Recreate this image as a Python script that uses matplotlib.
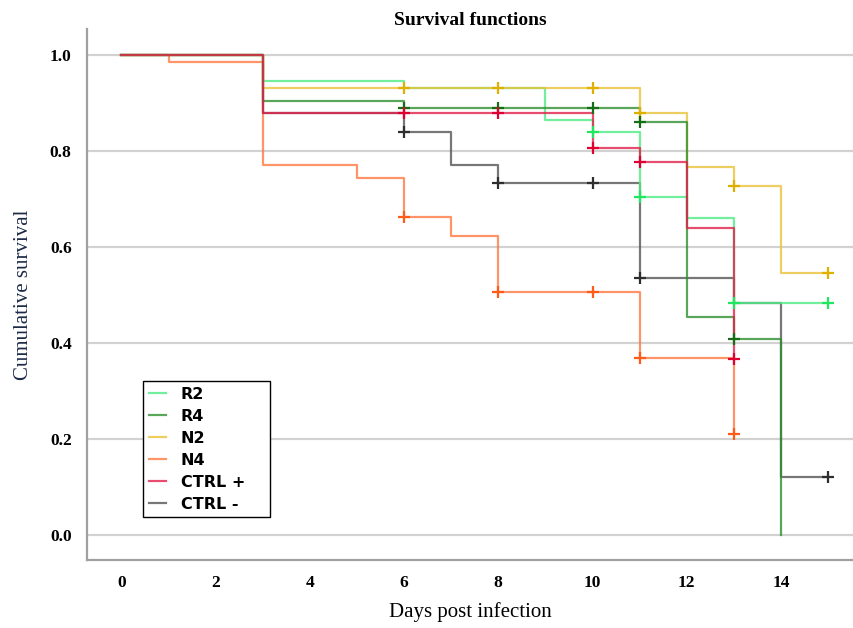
import numpy as np
import matplotlib
matplotlib.use("Agg")
import matplotlib.pyplot as plt
from matplotlib.lines import Line2D
from matplotlib.patches import Rectangle

# ---- data ----
groups = ["R2", "R4", "N2", "N4", "CTRL +", "CTRL -"]

times_R2 = [0, 3, 6, 9, 10, 11, 12, 13, 15]
surv_R2 = [1.0, 0.946, 0.932, 0.864, 0.840, 0.705, 0.660, 0.483, 0.483]
cens_R2 = [10, 11, 13, 15]

times_R4 = [0, 3, 6, 11, 12, 13, 14]
surv_R4 = [1.0, 0.904, 0.889, 0.861, 0.455, 0.408, 0.0]
cens_R4 = [6, 8, 10, 11, 13]

times_N2 = [0, 3, 11, 12, 13, 14, 15]
surv_N2 = [1.0, 0.932, 0.880, 0.766, 0.728, 0.545, 0.545]
cens_N2 = [6, 8, 10, 11, 13, 15]

times_N4 = [0, 1, 3, 5, 6, 7, 8, 11, 13]
surv_N4 = [1.0, 0.986, 0.770, 0.743, 0.662, 0.623, 0.506, 0.368, 0.210]
cens_N4 = [6, 8, 10, 11, 13]

times_CP = [0, 3, 10, 11, 12, 13]
surv_CP = [1.0, 0.880, 0.807, 0.777, 0.640, 0.366]
cens_CP = [6, 8, 10, 11, 13]

times_CM = [0, 3, 6, 7, 8, 11, 13, 14, 15]
surv_CM = [1.0, 0.880, 0.840, 0.770, 0.734, 0.535, 0.483, 0.121, 0.121]
cens_CM = [6, 8, 10, 11, 15]

x_ticks = [0, 2, 4, 6, 8, 10, 12, 14]
y_ticks = [0.0, 0.2, 0.4, 0.6, 0.8, 1.0]

line_colors = {"R2": "#4eec85", "R4": "#2f8f2f", "N2": "#e8c23a",
               "N4": "#ff7a45", "CTRL +": "#e0204a", "CTRL -": "#555555"}
mark_colors = {"R2": "#1fe860", "R4": "#146e14", "N2": "#e0b000",
               "N4": "#ff5a18", "CTRL +": "#dd0030", "CTRL -": "#2e2e2e"}

data = {
    "R2": (times_R2, surv_R2, cens_R2),
    "R4": (times_R4, surv_R4, cens_R4),
    "N2": (times_N2, surv_N2, cens_N2),
    "N4": (times_N4, surv_N4, cens_N4),
    "CTRL +": (times_CP, surv_CP, cens_CP),
    "CTRL -": (times_CM, surv_CM, cens_CM),
}
draw_order = ["N4", "CTRL -", "R2", "N2", "R4", "CTRL +"]

fig = plt.figure(figsize=(8.54, 6.28), dpi=100)
ax = fig.add_axes([87 / 854, 1 - 560 / 628, 1 - 87 / 854, (560 - 29) / 628])

for g in draw_order:
    t, s, c = data[g]
    ax.step(t, s, where="post", color=line_colors[g], lw=1.6, alpha=0.8, zorder=3)
    t_arr = np.array(t)
    idx = np.searchsorted(t_arr, np.array(c), side="right") - 1
    cy = np.array(s)[idx]
    ax.plot(c, cy, linestyle="none", marker="+", markersize=9, mew=1.6,
            color=mark_colors[g], zorder=4)

ax.set_xlim(-0.73, 15.55)
ax.set_ylim(-0.052, 1.054)
ax.set_xticks(x_ticks)
ax.set_yticks(y_ticks)
ax.set_xticklabels([str(v) for v in x_ticks], fontfamily="Liberation Serif",
                   fontweight="bold", fontsize=12.5)
ax.set_yticklabels([f"{v:.1f}" for v in y_ticks], fontfamily="Liberation Serif",
                   fontweight="bold", fontsize=12.5)
ax.tick_params(axis="both", length=0)
ax.tick_params(axis="x", pad=11)
ax.tick_params(axis="y", pad=11)
ax.grid(axis="y", color="#d2d2d2", lw=1.6, zorder=0)
ax.set_axisbelow(True)
for sp in ["top", "right"]:
    ax.spines[sp].set_visible(False)
for sp in ["left", "bottom"]:
    ax.spines[sp].set_color("#a0a0a0")
    ax.spines[sp].set_linewidth(1.6)

ax.set_title("Survival functions", fontfamily="Liberation Serif", fontweight="bold",
             fontsize=14, pad=-4)
ax.set_xlabel("Days post infection", fontfamily="Liberation Serif", fontsize=15,
              labelpad=8)
ax.set_ylabel("Cumulative survival", fontfamily="Liberation Serif", fontsize=15,
              color="#1c2a48", labelpad=12)

# legend box (frame drawn separately to match the wider box)
bx0, bx1 = (143 - 87) / 767, (270 - 87) / 767
by1, by0 = (560 - 381) / 531, (560 - 517) / 531
ax.add_patch(Rectangle((bx0, by0), bx1 - bx0, by1 - by0, transform=ax.transAxes,
                       facecolor="white", edgecolor="black", lw=1.0, zorder=5))
handles = [Line2D([0], [0], color=line_colors[g], lw=1.6, alpha=0.8) for g in groups]
leg = ax.legend(handles, groups, loc="upper left",
                bbox_to_anchor=(bx0, by1),
                prop={"family": "DejaVu Sans", "weight": "bold", "size": 11.5},
                frameon=False, handlelength=1.1,
                handletextpad=0.9, labelspacing=0.44, borderpad=0.35,
                borderaxespad=0)
leg.set_zorder(6)

fig.savefig("out.png", dpi=100)
